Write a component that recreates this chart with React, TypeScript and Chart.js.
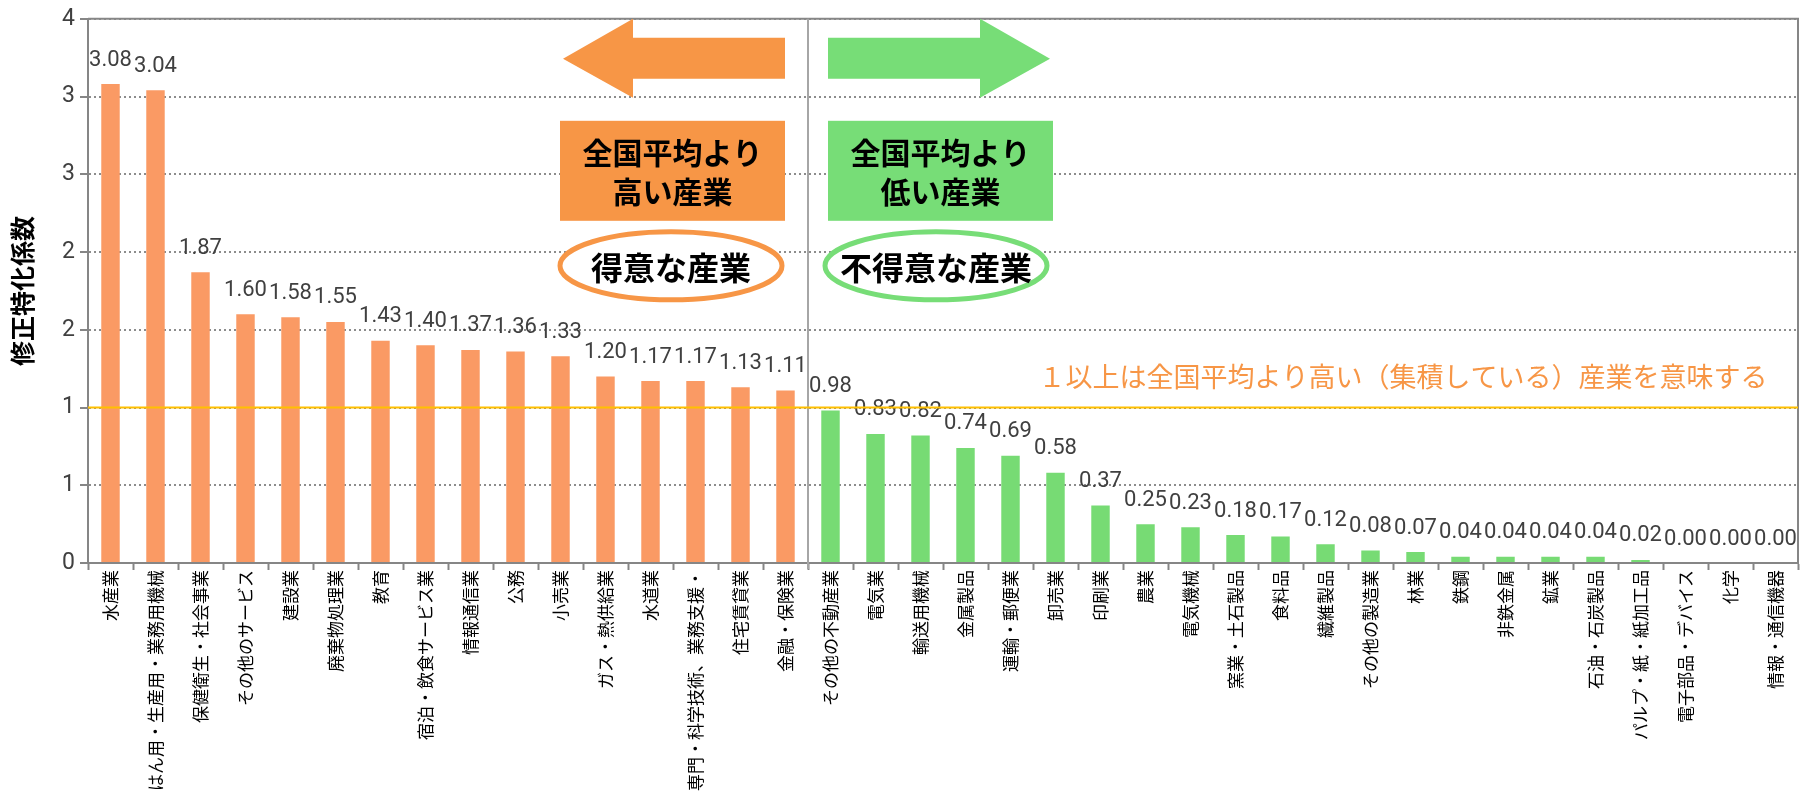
import React, { useEffect, useRef } from 'react';
import { Chart, registerables } from 'chart.js';

Chart.register(...registerables);

const categories = [
  '水産業', 'はん用・生産用・業務用機械', '保健衛生・社会事業', 'その他のサービス', '建設業', '廃棄物処理業',
  '教育', '宿泊・飲食サービス業', '情報通信業', '公務', '小売業', 'ガス・熱供給業', '水道業',
  '専門・科学技術、業務支援・', '住宅賃貸業', '金融・保険業',
  'その他の不動産業', '電気業', '輸送用機械', '金属製品', '運輸・郵便業', '卸売業', '印刷業', '農業',
  '電気機械', '窯業・土石製品', '食料品', '繊維製品', 'その他の製造業', '林業', '鉄鋼', '非鉄金属',
  '鉱業', '石油・石炭製品', 'パルプ・紙・紙加工品', '電子部品・デバイス', '化学', '情報・通信機器',
];

const values = [
  3.08, 3.04, 1.87, 1.60, 1.58, 1.55, 1.43, 1.40, 1.37, 1.36, 1.33, 1.20, 1.17, 1.17, 1.13, 1.11,
  0.98, 0.83, 0.82, 0.74, 0.69, 0.58, 0.37, 0.25, 0.23, 0.18, 0.17, 0.12, 0.08, 0.07, 0.04, 0.04,
  0.04, 0.04, 0.02, 0.00, 0.00, 0.00,
];

const highCount = 16;
const yTickLabels = ['0', '1', '1', '2', '2', '3', '3', '4'];
const yTitle = '修正特化係数';
const noteText = '１以上は全国平均より高い（集積している）産業を意味する';
const highBoxLines = ['全国平均より', '高い産業'];
const lowBoxLines = ['全国平均より', '低い産業'];
const highOval = '得意な産業';
const lowOval = '不得意な産業';

const ORANGE_BAR = '#FA9A64';
const GREEN_BAR = '#77DB74';
const ORANGE = '#F79646';
const GREEN = '#77DD77';
const AXIS = '#868686';
const JP = '"Noto Sans CJK JP", "Noto Sans", sans-serif';

const overlay = {
  id: 'overlay',
  afterDatasetsDraw(chart: any) {
    const ctx = chart.ctx;
    const meta = chart.getDatasetMeta(0);
    ctx.save();
    ctx.font = '22px Roboto';
    ctx.fillStyle = '#404040';
    ctx.textAlign = 'center';
    ctx.textBaseline = 'middle';
    meta.data.forEach((bar: any, i: number) => {
      ctx.fillText(values[i].toFixed(2), bar.x, bar.y - 24);
    });
    ctx.restore();
  },
  afterDraw(chart: any) {
    const { ctx, chartArea: a, scales } = chart;
    const x = scales.x;
    const y = scales.y;
    const sep = (x.getPixelForValue(highCount - 1) + x.getPixelForValue(highCount)) / 2;
    const top = a.top;
    ctx.save();

    // plot border (top, right)
    ctx.strokeStyle = AXIS;
    ctx.lineWidth = 2;
    ctx.beginPath();
    ctx.moveTo(a.left, a.top);
    ctx.lineTo(a.right, a.top);
    ctx.lineTo(a.right, a.bottom);
    ctx.stroke();

    // separator
    ctx.strokeStyle = '#A6A6A6';
    ctx.lineWidth = 2;
    ctx.beginPath();
    ctx.moveTo(sep, a.top);
    ctx.lineTo(sep, a.bottom + 6);
    ctx.stroke();

    // reference line at 1
    const y1 = y.getPixelForValue(1);
    ctx.strokeStyle = '#FFC000';
    ctx.lineWidth = 2;
    ctx.beginPath();
    ctx.moveTo(a.left, y1);
    ctx.lineTo(a.right, y1);
    ctx.stroke();

    // note text
    ctx.fillStyle = ORANGE;
    ctx.font = '27px ' + JP;
    ctx.textAlign = 'center';
    ctx.textBaseline = 'middle';
    ctx.fillText(noteText, a.right - 395, y.getPixelForValue(1.2));

    // orange arrow (left)
    ctx.fillStyle = ORANGE;
    ctx.beginPath();
    ctx.moveTo(sep - 245, top + 40);
    ctx.lineTo(sep - 175, top);
    ctx.lineTo(sep - 175, top + 19);
    ctx.lineTo(sep - 23, top + 19);
    ctx.lineTo(sep - 23, top + 60);
    ctx.lineTo(sep - 175, top + 60);
    ctx.lineTo(sep - 175, top + 79);
    ctx.closePath();
    ctx.fill();

    // green arrow (right)
    ctx.fillStyle = GREEN;
    ctx.beginPath();
    ctx.moveTo(sep + 20, top + 19);
    ctx.lineTo(sep + 172, top + 19);
    ctx.lineTo(sep + 172, top);
    ctx.lineTo(sep + 242, top + 40);
    ctx.lineTo(sep + 172, top + 79);
    ctx.lineTo(sep + 172, top + 60);
    ctx.lineTo(sep + 20, top + 60);
    ctx.closePath();
    ctx.fill();

    // boxes
    const boxes = [
      { x0: sep - 248, color: ORANGE, lines: highBoxLines },
      { x0: sep + 20, color: GREEN, lines: lowBoxLines },
    ];
    boxes.forEach((b) => {
      ctx.fillStyle = b.color;
      ctx.fillRect(b.x0, top + 102, 225, 100);
      ctx.fillStyle = '#000';
      ctx.font = 'bold 30px ' + JP;
      ctx.textAlign = 'center';
      ctx.textBaseline = 'middle';
      ctx.fillText(b.lines[0], b.x0 + 112.5, top + 134);
      ctx.fillText(b.lines[1], b.x0 + 112.5, top + 173);
    });

    // ovals
    const ovals = [
      { cx: sep - 137, color: ORANGE, text: highOval },
      { cx: sep + 128, color: GREEN, text: lowOval },
    ];
    ovals.forEach((o) => {
      ctx.beginPath();
      ctx.ellipse(o.cx, top + 247, 111, 34, 0, 0, Math.PI * 2);
      ctx.fillStyle = '#fff';
      ctx.fill();
      ctx.lineWidth = 5;
      ctx.strokeStyle = o.color;
      ctx.stroke();
      ctx.fillStyle = '#000';
      ctx.font = 'bold 32px ' + JP;
      ctx.textAlign = 'center';
      ctx.textBaseline = 'middle';
      ctx.fillText(o.text, o.cx, top + 249);
    });

    ctx.restore();
  },
};

export default function App() {
  const ref = useRef<HTMLCanvasElement | null>(null);

  useEffect(() => {
    document.body.style.margin = '0';
    if (!ref.current) return;
    const chart = new Chart(ref.current, {
      type: 'bar',
      data: {
        labels: categories,
        datasets: [
          {
            data: values,
            backgroundColor: values.map((_, i) => (i < highCount ? ORANGE_BAR : GREEN_BAR)),
            categoryPercentage: 1,
            barPercentage: 0.41,
          },
        ],
      },
      options: {
        responsive: false,
        animation: false,
        devicePixelRatio: 1,
        layout: { padding: { top: 1, right: 12, left: 0, bottom: 0 } },
        plugins: { legend: { display: false }, tooltip: { enabled: false } },
        scales: {
          x: {
            afterFit: (s: any) => { s.height = 230; },
            grid: { drawOnChartArea: false, drawTicks: true, tickLength: 7, tickColor: AXIS, tickWidth: 2, offset: true },
            border: { color: AXIS, width: 2 },
            ticks: {
              autoSkip: false,
              minRotation: 90,
              maxRotation: 90,
              padding: 0,
              color: '#000',
              font: { family: JP, size: 17 },
            },
          },
          y: {
            min: 0,
            max: 3.5,
            afterFit: (s: any) => { s.width = 88; },
            grid: { color: '#8C8C8C', lineWidth: 2, tickColor: AXIS, tickLength: 8, tickWidth: 2 },
            border: { color: AXIS, width: 2, dash: [2, 3] },
            ticks: {
              stepSize: 0.5,
              padding: 5,
              color: '#404040',
              font: { family: 'Roboto', size: 23 },
              callback: (_v: any, i: number) => yTickLabels[i],
            },
            title: {
              display: true,
              text: yTitle,
              color: '#000',
              font: { family: JP, size: 25, weight: 'bold' },
              padding: { top: 7, bottom: 0 },
            },
          },
        },
      },
      plugins: [overlay],
    } as any);
    return () => chart.destroy();
  }, []);

  return <canvas ref={ref} width={1810} height={793} style={{ display: 'block' }} />;
}
